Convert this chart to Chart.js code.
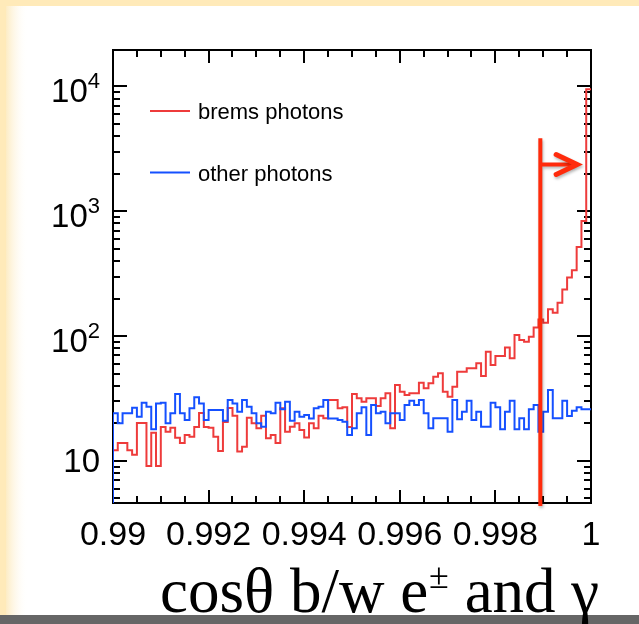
<!DOCTYPE html>
<html><head><meta charset="utf-8">
<script src="https://cdn.jsdelivr.net/npm/chart.js@4/dist/chart.umd.min.js"></script>
<style>html,body{margin:0;padding:0;background:#fff;overflow:hidden}#wrap{width:639px;height:624px;position:relative}</style>
</head><body><div id="wrap"><canvas id="c" width="639" height="624"></canvas></div>
<script>
// ---- data ----
const xMin = 0.99, xMax = 1.0, nBins = 100;
const xTickValues = [0.99, 0.992, 0.994, 0.996, 0.998, 1.0];
const xTickLabels = ['0.99', '0.992', '0.994', '0.996', '0.998', '1'];
const yTickValues = [10, 100, 1000, 10000];
const yTickExponents = ['', '2', '3', '4'];
const seriesNames = ['brems photons', 'other photons'];
const bremsPhotons = [
  12.2, 13.9, 13.9, 12.2, 11.2, 20.1, 20.1, 9.1, 16.8, 9.1,
  18.7, 17.1, 18.4, 15.3, 13.9, 16.1, 15.6, 18.7, 24.2, 18.7,
  18.4, 15.6, 12.0, 20.5, 26.5, 23.0, 11.9, 13.0, 22.2, 20.0,
  18.3, 23.0, 15.2, 16.1, 13.9, 26.4, 17.1, 18.8, 20.0, 17.7,
  15.4, 20.0, 18.3, 23.0, 22.0, 30.8, 30.8, 26.4, 26.9, 18.7,
  34.4, 31.7, 29.8, 31.7, 31.7, 27.5, 31.7, 34.8, 18.3, 40.6,
  35.8, 33.7, 34.8, 34.8, 42.3, 38.2, 41.9, 47.2, 50.3, 35.8,
  32.7, 39.3, 51.8, 51.8, 55.2, 55.2, 60.5, 47.9, 74.9, 58.6,
  69.2, 69.2, 81.2, 66.3, 102, 92.9, 90.0, 98.6, 117, 136,
  128, 164, 154, 185, 236, 295, 337, 518, 836, 9500
];
const otherPhotons = [
  24.1, 20.0, 24.1, 24.1, 26.7, 22.6, 29.3, 27.2, 17.9, 28.9,
  29.3, 20.0, 24.1, 34.4, 24.1, 21.3, 26.4, 32.3, 28.9, 21.3,
  25.6, 25.6, 25.6, 21.0, 30.8, 28.9, 24.8, 30.8, 27.2, 24.1,
  20.0, 18.8, 24.8, 24.1, 29.3, 25.9, 29.8, 21.0, 24.8, 22.6,
  23.3, 21.9, 26.4, 27.2, 30.8, 21.9, 21.9, 21.3, 20.6, 16.1,
  18.3, 24.1, 26.9, 16.1, 28.1, 24.1, 24.8, 20.0, 24.1, 24.1,
  21.3, 28.1, 30.3, 28.1, 30.8, 24.1, 18.3, 22.0, 22.0, 22.0,
  17.1, 30.8, 21.6, 24.8, 30.3, 21.3, 24.8, 18.8, 18.8, 29.3,
  26.9, 17.9, 24.8, 30.3, 17.9, 22.0, 17.9, 25.9, 28.1, 17.1,
  24.8, 37.0, 22.0, 22.0, 30.3, 22.9, 25.2, 26.9, 25.9, 25.9
];
// cut annotation (drawn on top of the plot): cut position, line top, arrow level, arrow tip
const cutMarker = [0.99894, 3850, 2370, 0.99971];
const axisTitleParts = ['cosθ b/w e', '±', ' and γ'];

// ---- build histogram outlines ----
const edges = [];
for (let i = 0; i <= nBins; i++) edges.push(xMin + (xMax - xMin) * i / nBins);
function histPoints(vals) {
  const pts = [{x: edges[0], y: 0.1}];
  vals.forEach((v, i) => pts.push({x: edges[i], y: v}));
  pts.push({x: edges[nBins], y: vals[nBins - 1]});
  return pts;
}

const SANS = '"Liberation Sans", Arial, Helvetica, sans-serif';
const SERIF = '"Liberation Serif", "Times New Roman", serif';

const deco = {
  id: 'deco',
  beforeDraw(chart) {
    const {ctx, width, height} = chart;
    ctx.save();
    ctx.fillStyle = '#ffffff';
    ctx.fillRect(0, 0, width, height);
    const g = ctx.createLinearGradient(6, 0, 28, 0);
    g.addColorStop(0, 'rgba(253,236,196,1)');
    g.addColorStop(1, 'rgba(255,255,255,0)');
    ctx.fillStyle = g;
    ctx.fillRect(6, 6, 22, 609);
    ctx.fillStyle = '#FFEAB9';
    ctx.fillRect(0, 0, width, 6);
    ctx.fillRect(0, 0, 6, 615);
    ctx.fillStyle = '#666666';
    ctx.fillRect(0, 615, width, height - 615);
    ctx.restore();
  },
  beforeDatasetsDraw(chart) {
    const {ctx, chartArea: a, scales: {x, y}} = chart;
    ctx.save();
    ctx.strokeStyle = '#000';
    ctx.lineWidth = 2;
    ctx.strokeRect(a.left, a.top, a.right - a.left, a.bottom - a.top);
    ctx.beginPath();
    for (let i = 0; i <= 20; i++) {
      const v = xMin + i * 0.0005;
      const px = Math.round(x.getPixelForValue(v));
      const len = (i % 4 === 0) ? 13 : 7;
      ctx.moveTo(px, a.bottom); ctx.lineTo(px, a.bottom - len);
      ctx.moveTo(px, a.top); ctx.lineTo(px, a.top + len);
    }
    for (let d = 0; d <= 4; d++) {
      for (let m = 1; m <= 9; m++) {
        const v = m * Math.pow(10, d);
        if (v < y.min || v > y.max) continue;
        const py = Math.round(y.getPixelForValue(v));
        const len = (m === 1) ? 14 : 7;
        ctx.moveTo(a.left, py); ctx.lineTo(a.left + len, py);
        ctx.moveTo(a.right, py); ctx.lineTo(a.right - len, py);
      }
    }
    ctx.stroke();
    ctx.fillStyle = '#000';
    ctx.textAlign = 'right';
    ctx.textBaseline = 'alphabetic';
    const rx = a.left - 13;
    yTickValues.forEach((v, i) => {
      const py = y.getPixelForValue(v);
      const e = yTickExponents[i];
      if (e === '') {
        ctx.font = '33px ' + SANS;
        ctx.fillText('10', rx, py + 11);
      } else {
        ctx.font = '22px ' + SANS;
        const ew = ctx.measureText(e).width;
        ctx.fillText(e, rx, py + 2);
        ctx.font = '33px ' + SANS;
        ctx.fillText('10', rx - ew, py + 16);
      }
    });
    ctx.restore();
  },
  afterDatasetsDraw(chart) {
    const {ctx, chartArea: a, scales: {x, y}} = chart;
    ctx.save();
    ctx.font = '22px ' + SANS;
    ctx.textAlign = 'left';
    ctx.textBaseline = 'alphabetic';
    chart.data.datasets.slice().sort((p, q) => p.legendIndex - q.legendIndex).forEach((ds, i) => {
      const ly = a.top + 61 + i * 61.5;
      ctx.strokeStyle = ds.borderColor;
      ctx.lineWidth = 2;
      ctx.beginPath();
      ctx.moveTo(a.left + 37, ly); ctx.lineTo(a.left + 77, ly);
      ctx.stroke();
      ctx.fillStyle = '#000';
      ctx.fillText(ds.label, a.left + 85, ly + 8);
    });
    const lx = x.getPixelForValue(cutMarker[0]);
    const ty = y.getPixelForValue(cutMarker[1]);
    const ay = y.getPixelForValue(cutMarker[2]);
    const tip = x.getPixelForValue(cutMarker[3]);
    ctx.shadowColor = 'rgba(0,0,0,0.28)';
    ctx.shadowBlur = 3;
    ctx.shadowOffsetX = 1;
    ctx.shadowOffsetY = 2;
    ctx.strokeStyle = '#FF2B0C';
    ctx.lineCap = 'butt';
    ctx.lineWidth = 4;
    ctx.beginPath();
    ctx.moveTo(lx, ty); ctx.lineTo(lx, a.bottom + 3);
    ctx.moveTo(lx, ay); ctx.lineTo(tip - 3, ay);
    ctx.stroke();
    ctx.lineWidth = 5;
    ctx.lineCap = 'round';
    ctx.lineJoin = 'miter';
    ctx.beginPath();
    ctx.moveTo(tip - 21, ay - 10); ctx.lineTo(tip, ay); ctx.lineTo(tip - 21, ay + 10);
    ctx.stroke();
    ctx.restore();
    ctx.save();
    ctx.fillStyle = '#000';
    ctx.textAlign = 'left';
    ctx.textBaseline = 'alphabetic';
    let tx = 160;
    const by = 612;
    ctx.font = '63px ' + SERIF;
    ctx.fillText(axisTitleParts[0], tx, by);
    tx += ctx.measureText(axisTitleParts[0]).width + 1;
    ctx.font = '36px ' + SERIF;
    ctx.fillText(axisTitleParts[1], tx, by - 24);
    tx += ctx.measureText(axisTitleParts[1]).width;
    ctx.font = '63px ' + SERIF;
    ctx.fillText(axisTitleParts[2], tx, by);
    ctx.restore();
  }
};

new Chart(document.getElementById('c'), {
  type: 'line',
  data: {
    datasets: [
      {label: seriesNames[1], data: histPoints(otherPhotons), borderColor: '#1550FF', order: 0, legendIndex: 1},
      {label: seriesNames[0], data: histPoints(bremsPhotons), borderColor: '#EE3B3B', order: 1, legendIndex: 0}
    ]
  },
  options: {
    responsive: false,
    animation: false,
    devicePixelRatio: 1,
    layout: {padding: {top: 50, right: 48, left: 0, bottom: 0}},
    plugins: {legend: {display: false}, tooltip: {enabled: false}, title: {display: false}},
    elements: {point: {radius: 0}, line: {borderWidth: 2, stepped: 'before', tension: 0, fill: false}},
    scales: {
      x: {
        type: 'linear', min: xMin, max: xMax,
        grid: {display: false, drawTicks: false},
        border: {display: false},
        afterBuildTicks: s => { s.ticks = xTickValues.map(v => ({value: v})); },
        ticks: {
          autoSkip: false, maxRotation: 0, padding: 12, color: '#000',
          font: {family: SANS, size: 34},
          callback: (v, i) => xTickLabels[i]
        },
        afterFit: s => { s.height = 121; }
      },
      y: {
        type: 'logarithmic', min: 4.6, max: 19600,
        grid: {display: false, drawTicks: false},
        border: {display: false},
        ticks: {display: false},
        afterFit: s => { s.width = 113; }
      }
    }
  },
  plugins: [deco]
});
</script>
</body></html>
